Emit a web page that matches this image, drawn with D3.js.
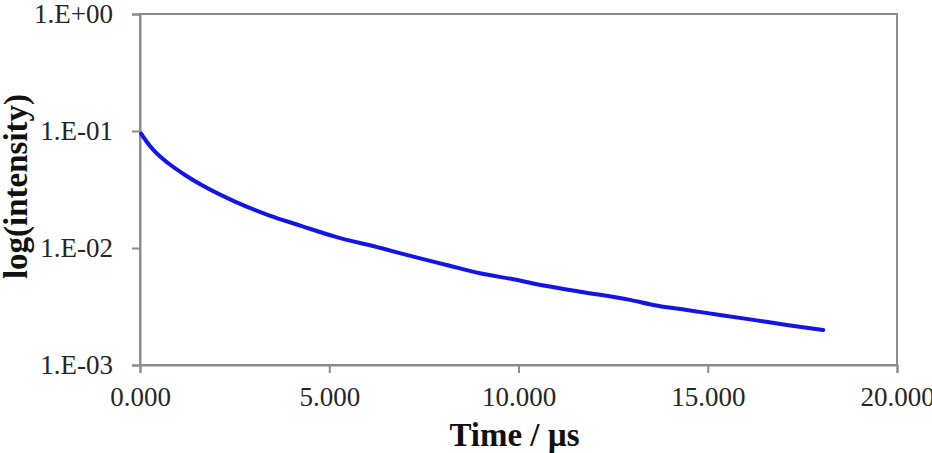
<!DOCTYPE html>
<html>
<head>
<meta charset="utf-8">
<script src="https://cdn.jsdelivr.net/npm/d3@7"></script>
<style>
  body { margin: 0; background: #fff; }
  svg { display: block; }
  .tick text { font-family: "Liberation Serif", "Times New Roman", serif; font-size: 27px; fill: #262626; }
  .axis-title { font-family: "Liberation Serif", "Times New Roman", serif; font-size: 33px; font-weight: bold; fill: #111; }
</style>
</head>
<body>
<svg id="chart" width="932" height="453"></svg>
<script>
// decay curve
const timeUs = [0.03, 0.177, 0.396, 0.748, 1.189, 1.63, 2.51, 3.39, 4.272, 5.152, 6.386,
  7.221, 8.103, 8.983, 9.863, 10.745, 11.625, 12.946, 13.562, 14.444, 15.324,
  16.204, 17.086, 18.05];
const intensity = [0.095, 0.081, 0.0665, 0.053, 0.0421, 0.0345, 0.0249, 0.0191, 0.0154,
  0.0125, 0.00994, 0.00843, 0.00716, 0.00608, 0.0054, 0.00473, 0.00423, 0.0036,
  0.00326, 0.00295, 0.00268, 0.00243, 0.0022, 0.00199];
const xTicks = [0, 5, 10, 15, 20];
const yTicks = [1e-3, 1e-2, 1e-1, 1];
const yTickLabels = ["1.E-03", "1.E-02", "1.E-01", "1.E+00"];

const width = 932, height = 453;
const margin = { top: 14, right: 35, bottom: 88, left: 140 };
const innerW = width - margin.left - margin.right;
const innerH = height - margin.top - margin.bottom;

const svg = d3.select("#chart");
const g = svg.append("g").attr("transform", `translate(${margin.left},${margin.top})`);

const x = d3.scaleLinear([0, 20], [0, innerW]);
const y = d3.scaleLog([1e-3, 1], [innerH, 0]);

const axisColor = "#8c8c8c";

// frame
g.append("rect")
  .attr("width", innerW)
  .attr("height", innerH)
  .attr("fill", "none")
  .attr("stroke", axisColor)
  .attr("stroke-width", 2);

const xAxis = g.append("g")
  .attr("transform", `translate(0,${innerH})`)
  .call(d3.axisBottom(x).tickValues(xTicks).tickFormat(d3.format(".3f")).tickSize(8).tickPadding(14));

const yAxis = g.append("g")
  .call(d3.axisLeft(y).tickValues(yTicks).tickFormat((d, i) => yTickLabels[i]).tickSize(8).tickPadding(19));

[xAxis, yAxis].forEach((a) => {
  a.select(".domain").attr("stroke", axisColor).attr("stroke-width", 2);
  a.selectAll(".tick line").attr("stroke", axisColor).attr("stroke-width", 2);
  a.attr("font-family", null).attr("font-size", null);
});

const points = timeUs.map((t, i) => [t, intensity[i]]);
const line = d3.line()
  .x((d) => x(d[0]))
  .y((d) => y(d[1]))
  .curve(d3.curveMonotoneX);

g.append("path")
  .datum(points)
  .attr("d", line)
  .attr("fill", "none")
  .attr("stroke", "#1414e6")
  .attr("stroke-width", 4)
  .attr("stroke-linejoin", "round")
  .attr("stroke-linecap", "round");

svg.append("text")
  .attr("class", "axis-title")
  .attr("x", margin.left + innerW / 2 - 4)
  .attr("y", 446)
  .attr("text-anchor", "middle")
  .text("Time / µs");

svg.append("text")
  .attr("class", "axis-title")
  .attr("transform", `translate(27,${margin.top + innerH / 2 - 3}) rotate(-90)`)
  .attr("text-anchor", "middle")
  .text("log(intensity)");
</script>
</body>
</html>
